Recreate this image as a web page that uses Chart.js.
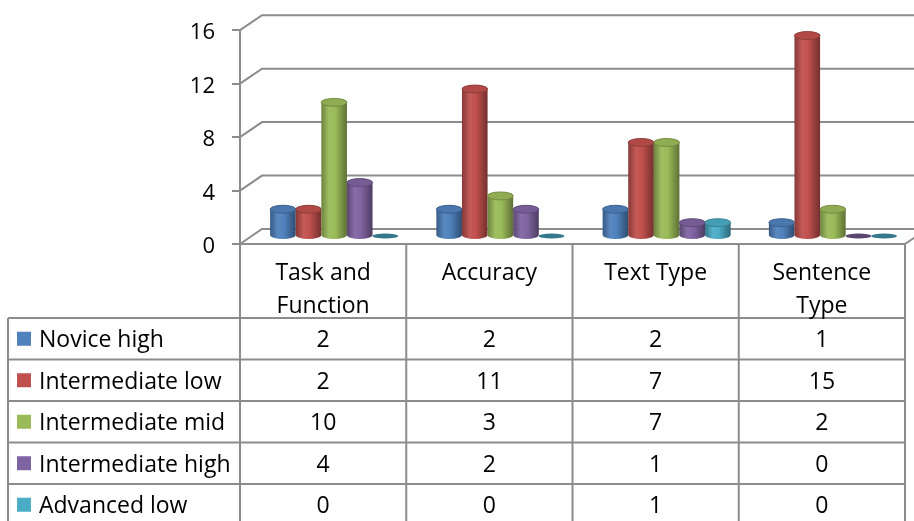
<!DOCTYPE html>
<html>
<head>
<meta charset="utf-8">
<script src="https://cdn.jsdelivr.net/npm/chart.js@4.4.1/dist/chart.umd.min.js"></script>
<style>
  html, body { margin: 0; padding: 0; background: #fff; }
  #wrap { width: 914px; height: 521px; position: relative; }
</style>
</head>
<body>
<div id="wrap"><canvas id="chart" width="914" height="521"></canvas></div>
<script>
// data
const categories = [['Task and', 'Function'], ['Accuracy'], ['Text Type'], ['Sentence', 'Type']];
const seriesNames = ['Novice high', 'Intermediate low', 'Intermediate mid', 'Intermediate high', 'Advanced low'];
const noviceHigh = [2, 2, 2, 1];
const intermediateLow = [2, 11, 7, 15];
const intermediateMid = [10, 3, 7, 2];
const intermediateHigh = [4, 2, 1, 0];
const advancedLow = [0, 0, 1, 0];
const yTicks = [0, 4, 8, 12, 16];

const seriesValues = [noviceHigh, intermediateLow, intermediateMid, intermediateHigh, advancedLow];
const colors = ['#4F81BD', '#C0504D', '#9BBB59', '#8064A2', '#4BACC6'];

const FONT = '23px "Open Sans"';
const LINE = '#8c8c8c';
const DX = 22, DY = -15;      // depth of the 3d box
const BAR_DX = 11, BAR_DY = -8; // bars sit mid-depth

// ======================
// COLOR HELPER
// ======================
function shade(hex, amt) {
  const n = parseInt(hex.slice(1), 16);
  let r = n >> 16, g = (n >> 8) & 255, b = n & 255;
  const f = v => Math.round(amt < 0 ? v * (1 + amt) : v + (255 - v) * amt);
  return `rgb(${f(r)},${f(g)},${f(b)})`;
}

function drawCylinder(ctx, cx, top, bottom, w, color) {
  const rx = w / 2;
  if (bottom - top < 1) {
    // zero value -> flat disc
    ctx.beginPath();
    ctx.ellipse(cx, bottom, rx, 2.6, 0, 0, Math.PI * 2);
    ctx.fillStyle = shade(color, -0.3);
    ctx.fill();
    return;
  }
  const ry = 4;
  const grad = ctx.createLinearGradient(cx - rx, 0, cx + rx, 0);
  grad.addColorStop(0, shade(color, -0.3));
  grad.addColorStop(0.3, shade(color, 0.06));
  grad.addColorStop(0.55, color);
  grad.addColorStop(1, shade(color, -0.4));
  ctx.beginPath();
  ctx.moveTo(cx - rx, top);
  ctx.lineTo(cx - rx, bottom);
  ctx.ellipse(cx, bottom, rx, ry, 0, Math.PI, 0, true);
  ctx.lineTo(cx + rx, top);
  ctx.ellipse(cx, top, rx, ry, 0, 0, Math.PI, true);
  ctx.closePath();
  ctx.fillStyle = grad;
  ctx.fill();
  // cap
  ctx.beginPath();
  ctx.ellipse(cx, top, rx, ry, 0, 0, Math.PI * 2);
  ctx.fillStyle = shade(color, -0.08);
  ctx.fill();
  ctx.strokeStyle = shade(color, -0.3);
  ctx.lineWidth = 0.8;
  ctx.stroke();
}

// ======================
// 3D BOX + CYLINDERS + DATA TABLE
// ======================
const box3d = {
  id: 'box3d',
  beforeDatasetsDraw(chart) {
    const { ctx, chartArea: a, scales: { y } } = chart;
    ctx.save();
    ctx.strokeStyle = LINE;
    ctx.lineWidth = 2;
    yTicks.forEach(v => {
      const py = y.getPixelForValue(v);
      ctx.beginPath();
      ctx.moveTo(a.left, py);
      ctx.lineTo(a.left + DX, py + DY);
      ctx.lineTo(chart.width + 5, py + DY);
      ctx.stroke();
    });
    // floor
    const y0 = y.getPixelForValue(0);
    ctx.beginPath();
    ctx.moveTo(a.left, y0);
    ctx.lineTo(a.right, y0);
    ctx.lineTo(a.right + DX, y0 + DY);
    ctx.stroke();
    ctx.restore();
  },
  afterDatasetsDraw(chart) {
    const ctx = chart.ctx;
    ctx.save();
    chart.data.datasets.forEach((ds, i) => {
      chart.getDatasetMeta(i).data.forEach(bar => {
        drawCylinder(ctx, bar.x + BAR_DX, bar.y + BAR_DY, bar.base + BAR_DY, bar.width, colors[i]);
      });
    });
    ctx.restore();
  },
  afterDraw(chart) {
    const { ctx, chartArea: a, scales: { x, y } } = chart;
    const y0 = y.getPixelForValue(0);
    const colW = (a.right - a.left) / categories.length;
    const headH = 74, rowH = 41.5, tableLeft = 8;
    const rowTop = y0 + headH;
    ctx.save();
    ctx.strokeStyle = LINE;
    ctx.lineWidth = 2;
    // vertical lines
    for (let i = 0; i <= categories.length; i++) {
      const px = a.left + i * colW;
      ctx.beginPath();
      ctx.moveTo(px, y0);
      ctx.lineTo(px, chart.height);
      ctx.stroke();
    }
    ctx.beginPath();
    ctx.moveTo(tableLeft, rowTop);
    ctx.lineTo(tableLeft, chart.height);
    ctx.stroke();
    // horizontal lines
    for (let r = 0; r < seriesNames.length; r++) {
      const py = rowTop + r * rowH;
      ctx.beginPath();
      ctx.moveTo(tableLeft, py);
      ctx.lineTo(a.right, py);
      ctx.stroke();
    }
    // header
    ctx.fillStyle = '#000';
    ctx.font = FONT;
    ctx.textAlign = 'center';
    ctx.textBaseline = 'middle';
    categories.forEach((lines, i) => {
      const cx = x.getPixelForValue(i);
      lines.forEach((t, k) => ctx.fillText(t, cx, y0 + 29 + k * 33));
    });
    // rows
    seriesNames.forEach((name, r) => {
      const cy = rowTop + r * rowH + rowH / 2 + 2;
      ctx.fillStyle = colors[r];
      ctx.fillRect(17, cy - 9, 14, 14);
      ctx.fillStyle = '#000';
      ctx.textAlign = 'left';
      ctx.fillText(name, 39, cy);
      ctx.textAlign = 'center';
      seriesValues[r].forEach((v, i) => ctx.fillText(String(v), x.getPixelForValue(i), cy));
    });
    ctx.restore();
  }
};

new Chart(document.getElementById('chart'), {
  type: 'bar',
  data: {
    labels: categories,
    datasets: seriesNames.map((name, i) => ({
      label: name,
      data: seriesValues[i],
      backgroundColor: 'rgba(0,0,0,0)',
      borderWidth: 0,
      categoryPercentage: 0.77,
      barPercentage: 1.0
    }))
  },
  options: {
    responsive: false,
    animation: false,
    devicePixelRatio: 1,
    layout: { padding: { left: 180, right: 9, top: 30, bottom: 277 } },
    plugins: { legend: { display: false }, tooltip: { enabled: false } },
    scales: {
      x: { display: false },
      y: {
        min: 0,
        max: 16,
        afterFit: s => { s.width = 60; },
        afterBuildTicks: s => { s.ticks = yTicks.map(v => ({ value: v })); },
        ticks: { color: '#000', font: { family: 'Open Sans', size: 22 }, padding: 17, labelOffset: 3 },
        grid: { drawOnChartArea: false, drawTicks: true, tickLength: 8, color: LINE, lineWidth: 2 },
        border: { display: true, color: LINE, width: 2 }
      }
    }
  },
  plugins: [box3d]
});
</script>
</body>
</html>
